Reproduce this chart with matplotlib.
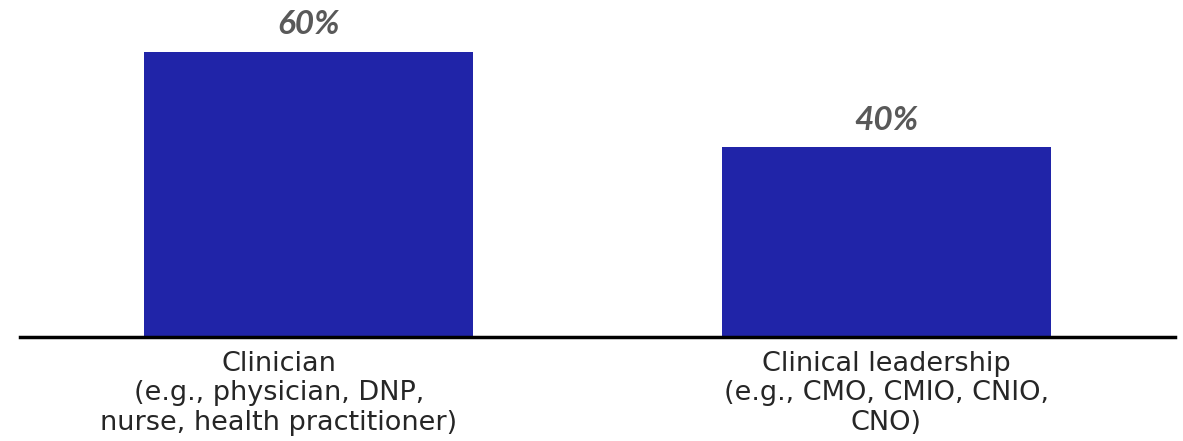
import matplotlib.pyplot as plt
from matplotlib.transforms import ScaledTranslation

categories = ["Clinician\n(e.g., physician, DNP,\nnurse, health practitioner)",
              "Clinical leadership\n(e.g., CMO, CMIO, CNIO,\nCNO)"]
values = [60, 40]
value_labels = ["60%", "40%"]

plt.rcParams['font.family'] = ['Lato', 'DejaVu Sans']

fig = plt.figure(figsize=(11.83, 4.41), dpi=100)
ax = fig.add_axes([20 / 1183, 104 / 441, 1155 / 1183, 337 / 441])

x = range(len(categories))
bars = ax.bar(x, values, width=0.57, color="#2024a8")

for b, lab in zip(bars, value_labels):
    ax.text(b.get_x() + b.get_width() / 2, b.get_height() + 2.6, lab,
            ha="center", va="bottom", fontsize=24, fontweight="bold",
            fontstyle="italic", color="#595959")

ax.set_xlim(-0.5, 1.5)
ax.set_ylim(0, 70.9)
ax.set_xticks(list(x))
ax.set_xticklabels(categories, fontsize=19.5, color="#262626", linespacing=1.17,
                   family="DejaVu Sans")
ax.tick_params(axis="x", length=0, pad=10)
# first label sits a little left of its bar
lbl = ax.get_xticklabels()[0]
lbl.set_transform(lbl.get_transform() + ScaledTranslation(-30 / 100, 0, fig.dpi_scale_trans))
ax.set_yticks([])
for s in ["top", "right", "left"]:
    ax.spines[s].set_visible(False)
ax.spines["bottom"].set_linewidth(2.5)
ax.spines["bottom"].set_color("black")

fig.savefig("out.png", dpi=100)
